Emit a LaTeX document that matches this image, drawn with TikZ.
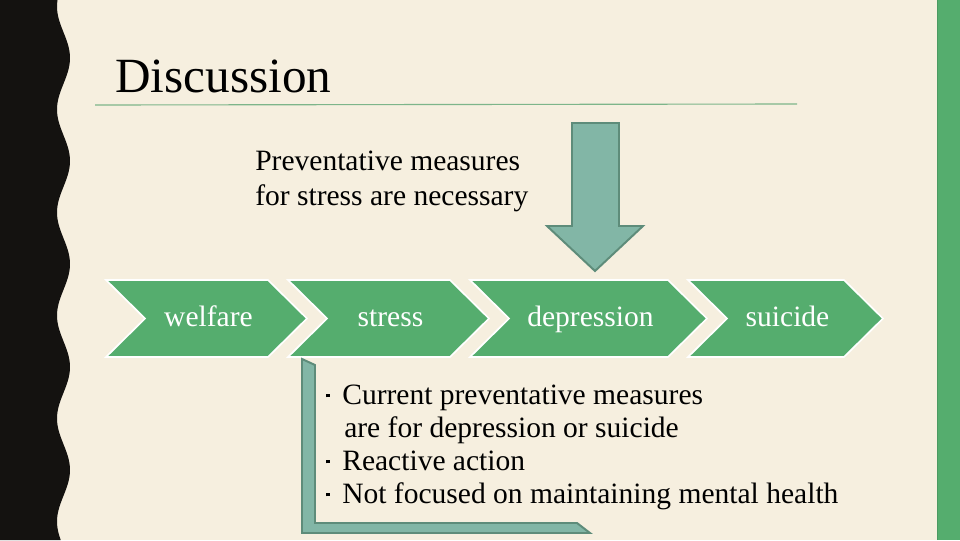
\documentclass[tikz,border=0pt]{standalone}
\usepackage{fontspec}
\setmainfont{Liberation Serif}
\usetikzlibrary{positioning}
\definecolor{cream}{HTML}{F6EFDF}
\definecolor{ink}{HTML}{141210}
\definecolor{leaf}{HTML}{55AD6E}
\definecolor{leafdark}{HTML}{4C9A62}
\definecolor{rule}{HTML}{7DB58A}
\definecolor{teal}{HTML}{82B6A6}
\definecolor{tealdark}{HTML}{5E8C7A}
\newcommand\notedot{\makebox[24.2pt][l]{\hspace{12.6pt}\raisebox{0.24em}{\rule{2.6pt}{2.6pt}}}}
\tikzset{
  chev/.style={fill=leaf,draw=white,line width=1.2pt,line join=miter},
  chevlabel/.style={text=white,font=\fontsize{21}{24}\selectfont,inner sep=0pt,anchor=base},
  title/.style={font=\fontsize{35}{42}\selectfont,inner sep=0pt,anchor=base west},
  body/.style={font=\fontsize{21}{24.9}\selectfont,align=left,inner sep=0pt,anchor=north west},
  shade/.style={fill=teal,draw=tealdark,line width=1.4pt,line join=miter}
}

\begin{document}
\begin{tikzpicture}[x=0.025cm,y=-0.025cm]
  % page and side bands
  \fill[cream] (0,0) rectangle (960,540);
  \useasboundingbox (0,0) rectangle (960,540);
  \fill[ink] (0,0) -- plot[domain=0:540,samples=120,smooth]
    ({63.5+6.5*cos(3.4951*(\x-58))},\x) -- (0,540) -- cycle;
  \fill[leaf] (937,0) rectangle (960,540);
  \draw[leafdark,line width=0.8pt] (937.5,0) -- (937.5,540);

  % heading
  \node[title] (heading) at (115,92) {Discussion};
  \draw[rule,line width=0.8pt] (95,105) -- (797,104);

  \node[body] (need) at (255,151) {Preventative measures\\for stress are necessary};

  % down arrow
  \draw[shade] (572,123) -- (619,123) -- (619,226) -- (643,226) -- (595,271)
    -- (547,226) -- (572,226) -- cycle;

  % process chevrons
  \foreach \l/\r/\n in {106/268/welfare, 288/450/stress, 470/668/depression, 688/844/suicide}{
    \draw[chev] (\l,280) -- (\r,280) -- (\r+39,318.5) -- (\r,357) -- (\l,357)
      -- (\l+39,318.5) -- cycle;
    \node[chevlabel] (\n) at ({(\l+\r+39)/2+2},326.5) {\n};
  }

  % bracket and notes
  \draw[shade] (302,359) -- (315,365) -- (315,523) -- (577,523) -- (590,533)
    -- (302,533) -- cycle;
  \node[body,font=\fontsize{21}{23.5}\selectfont] (notes) at (308,384.5)
    {\notedot Current preventative measures\\
     \hspace{25.6pt}are for depression or suicide\\
     \notedot Reactive action\\
     \notedot Not focused on maintaining mental health};
\end{tikzpicture}
\end{document}
